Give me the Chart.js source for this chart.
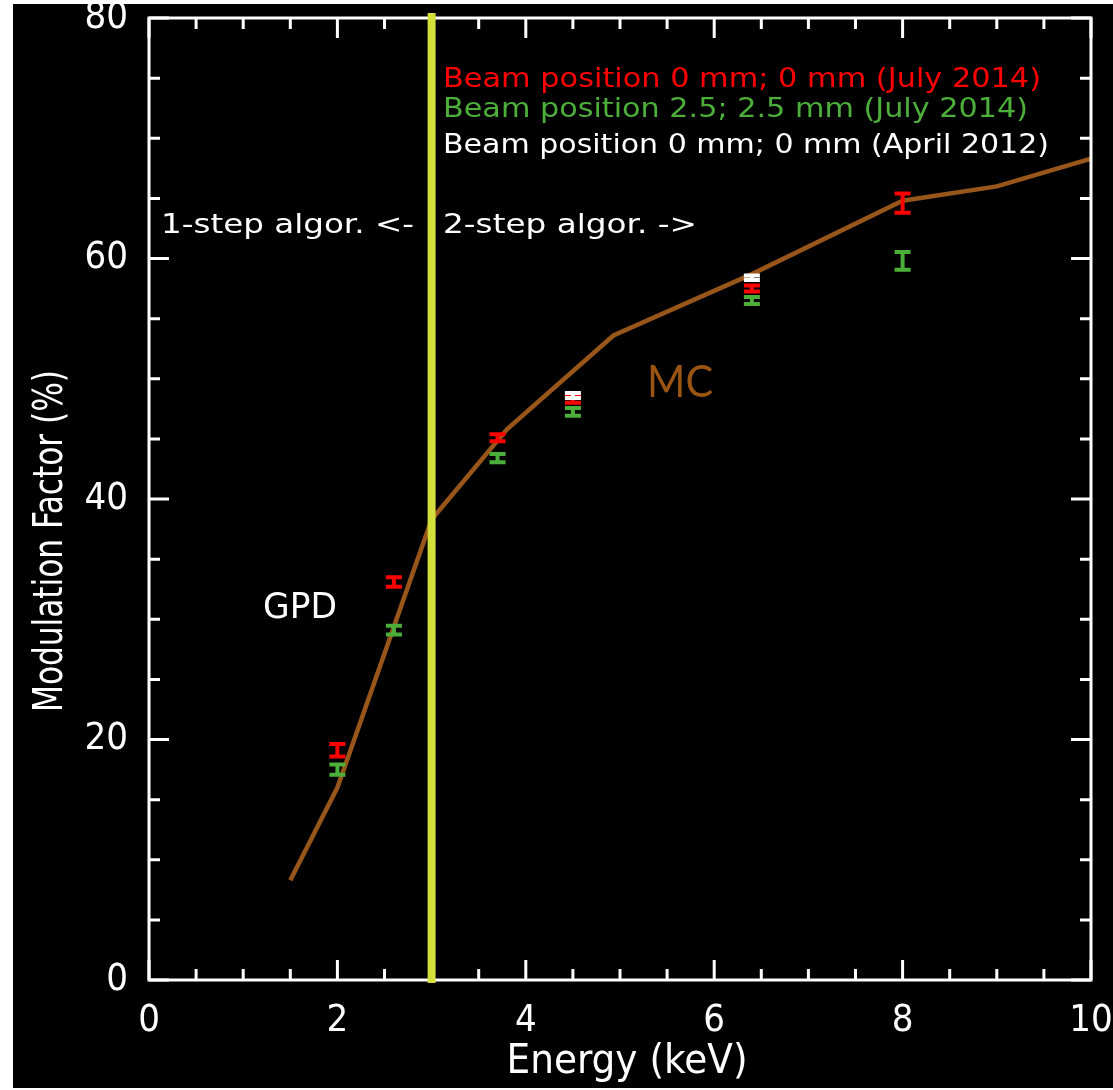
<!DOCTYPE html>
<html>
<head>
<meta charset="utf-8">
<title>Modulation Factor vs Energy</title>
<script src="https://cdn.jsdelivr.net/npm/chart.js@4"></script>
<style>
  html, body { margin: 0; padding: 0; background: #fff; }
  #chart { display: block; }
</style>
</head>
<body>
<canvas id="chart" width="1113" height="1090"></canvas>
<script>
// ---- data ----
const mcEnergy = [1.5, 2.0, 3.0, 3.8, 4.93, 6.4, 8.0, 9.0, 10.0];
const mcFactor = [8.3, 16.0, 38.3, 45.8, 53.6, 58.7, 64.8, 66.0, 68.3];

const july0Energy = [2.0, 2.6, 3.7, 4.5, 6.4, 8.0];
const july0Factor = [19.1, 33.1, 45.1, 48.3, 57.5, 64.6];
const july0Error = [0.52, 0.39, 0.29, 0.29, 0.25, 0.80];

const july25Energy = [2.0, 2.6, 3.7, 4.5, 6.4, 8.0];
const july25Factor = [17.5, 29.1, 43.4, 47.25, 56.5, 59.8];
const july25Error = [0.43, 0.36, 0.35, 0.32, 0.29, 0.74];

const april0Energy = [4.5, 6.4];
const april0Factor = [48.6, 58.4];
const april0Error = [0.21, 0.18];

const algoSwitchEnergy = 3;

const xTickLabels = [0, 2, 4, 6, 8, 10];
const yTickLabels = [0, 20, 40, 60, 80];

const legendLines = [
    { text: 'Beam position 0 mm; 0 mm (July 2014)', color: '#ff0000', baseline: 87, width: 598 },
    { text: 'Beam position 2.5; 2.5 mm (July 2014)', color: '#4caf3a', baseline: 117, width: 585 },
    { text: 'Beam position 0 mm; 0 mm (April 2012)', color: '#ffffff', baseline: 153, width: 606 }
];

const BROWN = '#98561a';
const YELLOW = '#d3df3a';

function points(xs, ys, errs) {
    return xs.map((x, i) => ({ x: x, y: ys[i], err: errs ? errs[i] : 0 }));
}

// text squeezed/stretched to a given width, like the stroke font of the original
function fitText(ctx, text, x, y, width, font, color, align) {
    ctx.save();
    ctx.font = font;
    ctx.fillStyle = color;
    ctx.textBaseline = 'alphabetic';
    const w = ctx.measureText(text).width;
    const sx = width / w;
    ctx.translate(x, y);
    ctx.scale(sx, 1);
    ctx.textAlign = align || 'left';
    ctx.fillText(text, 0, 0);
    ctx.restore();
}

const backgroundPlugin = {
    id: 'background',
    beforeDraw(chart) {
        const ctx = chart.ctx;
        ctx.save();
        ctx.fillStyle = '#ffffff';
        ctx.fillRect(0, 0, chart.width, chart.height);
        ctx.fillStyle = '#000000';
        ctx.fillRect(13, 4, chart.width - 13, chart.height - 6);
        ctx.restore();
    }
};

const decorPlugin = {
    id: 'decor',
    afterDatasetsDraw(chart) {
        const ctx = chart.ctx;
        const xs = chart.scales.x;
        const ys = chart.scales.y;
        const a = chart.chartArea;

        // error bars
        chart.data.datasets.forEach((ds, di) => {
            if (!ds.errorBars) return;
            ctx.save();
            ctx.strokeStyle = ds.borderColor;
            ctx.lineWidth = 4;
            ctx.lineCap = 'butt';
            ds.data.forEach(p => {
                const px = xs.getPixelForValue(p.x);
                const top = ys.getPixelForValue(p.y + p.err);
                const bot = ys.getPixelForValue(p.y - p.err);
                ctx.beginPath();
                ctx.moveTo(px, top);
                ctx.lineTo(px, bot);
                ctx.moveTo(px - 8, top);
                ctx.lineTo(px + 8, top);
                ctx.moveTo(px - 8, bot);
                ctx.lineTo(px + 8, bot);
                ctx.stroke();
            });
            ctx.restore();
        });

        // frame and inward ticks on all four sides
        ctx.save();
        ctx.strokeStyle = '#ffffff';
        ctx.lineWidth = 3;
        ctx.strokeRect(a.left, a.top, a.right - a.left, a.bottom - a.top);
        ctx.beginPath();
        for (let v = xs.min; v <= xs.max + 1e-9; v += 0.5) {
            const px = xs.getPixelForValue(v);
            const len = Math.abs(v % 2) < 1e-9 ? 20 : 11;
            ctx.moveTo(px, a.bottom);
            ctx.lineTo(px, a.bottom - len);
            ctx.moveTo(px, a.top);
            ctx.lineTo(px, a.top + len);
        }
        for (let v = ys.min; v <= ys.max + 1e-9; v += 5) {
            const py = ys.getPixelForValue(v);
            const len = Math.abs(v % 20) < 1e-9 ? 20 : 11;
            ctx.moveTo(a.left, py);
            ctx.lineTo(a.left + len, py);
            ctx.moveTo(a.right, py);
            ctx.lineTo(a.right - len, py);
        }
        ctx.stroke();
        ctx.restore();

        // algorithm switch line
        const sx = xs.getPixelForValue(algoSwitchEnergy);
        ctx.save();
        ctx.strokeStyle = YELLOW;
        ctx.lineWidth = 8;
        ctx.beginPath();
        ctx.moveTo(sx, a.top - 5);
        ctx.lineTo(sx, a.bottom + 3);
        ctx.stroke();
        ctx.restore();

        // annotations
        const labelFont = '27px "DejaVu Sans"';
        legendLines.forEach(l => fitText(ctx, l.text, 443, l.baseline, l.width, '26px "DejaVu Sans"', l.color));
        fitText(ctx, '1-step algor. <-', 161, 233, 253, labelFont, '#ffffff');
        fitText(ctx, '2-step algor. ->', 443, 233, 254, labelFont, '#ffffff');
        fitText(ctx, 'GPD', 263, 618, 74, '36px "DejaVu Sans"', '#ffffff');
        fitText(ctx, 'MC', 647, 397, 66, '44px Lato', '#9c5412');

        // axis titles
        fitText(ctx, 'Energy (keV)', 627, 1073, 241, '41px "DejaVu Sans Condensed", "DejaVu Sans"', '#ffffff', 'center');
        ctx.save();
        ctx.translate(62, 541);
        ctx.rotate(-Math.PI / 2);
        fitText(ctx, 'Modulation Factor (%)', 0, 0, 342, '41px "DejaVu Sans Condensed", "DejaVu Sans"', '#ffffff', 'center');
        ctx.restore();
    }
};

const tickFont = { family: '"DejaVu Sans Condensed", "DejaVu Sans"', size: 38, lineHeight: 1 };

new Chart(document.getElementById('chart').getContext('2d'), {
    type: 'scatter',
    data: {
        datasets: [
            {
                label: 'MC',
                data: points(mcEnergy, mcFactor),
                showLine: true,
                borderColor: BROWN,
                borderWidth: 4.5,
                pointRadius: 0,
                tension: 0
            },
            {
                label: 'Beam position 0 mm; 0 mm (July 2014)',
                data: points(july0Energy, july0Factor, july0Error),
                borderColor: '#ff0000',
                pointRadius: 0,
                errorBars: true
            },
            {
                label: 'Beam position 2.5; 2.5 mm (July 2014)',
                data: points(july25Energy, july25Factor, july25Error),
                borderColor: '#4caf3a',
                pointRadius: 0,
                errorBars: true
            },
            {
                label: 'Beam position 0 mm; 0 mm (April 2012)',
                data: points(april0Energy, april0Factor, april0Error),
                borderColor: '#ffffff',
                pointRadius: 0,
                errorBars: true
            }
        ]
    },
    options: {
        responsive: false,
        animation: false,
        events: [],
        layout: { padding: { left: 0, right: 22, top: 18, bottom: 0 } },
        plugins: {
            legend: { display: false },
            tooltip: { enabled: false }
        },
        scales: {
            x: {
                type: 'linear',
                min: 0,
                max: 10,
                grid: { display: false, drawTicks: false },
                border: { display: false },
                afterBuildTicks(s) { s.ticks = xTickLabels.map(v => ({ value: v })); },
                afterFit(s) { s.height = 110; s.paddingLeft = 0; s.paddingRight = 0; },
                ticks: { color: '#ffffff', font: tickFont, padding: 22, maxRotation: 0 }
            },
            y: {
                type: 'linear',
                min: 0,
                max: 80,
                grid: { display: false, drawTicks: false },
                border: { display: false },
                afterBuildTicks(s) { s.ticks = yTickLabels.map(v => ({ value: v })); },
                afterFit(s) { s.width = 149; s.paddingTop = 0; s.paddingBottom = 0; },
                ticks: { color: '#ffffff', font: tickFont, padding: 21 }
            }
        }
    },
    plugins: [backgroundPlugin, decorPlugin]
});
</script>
</body>
</html>
